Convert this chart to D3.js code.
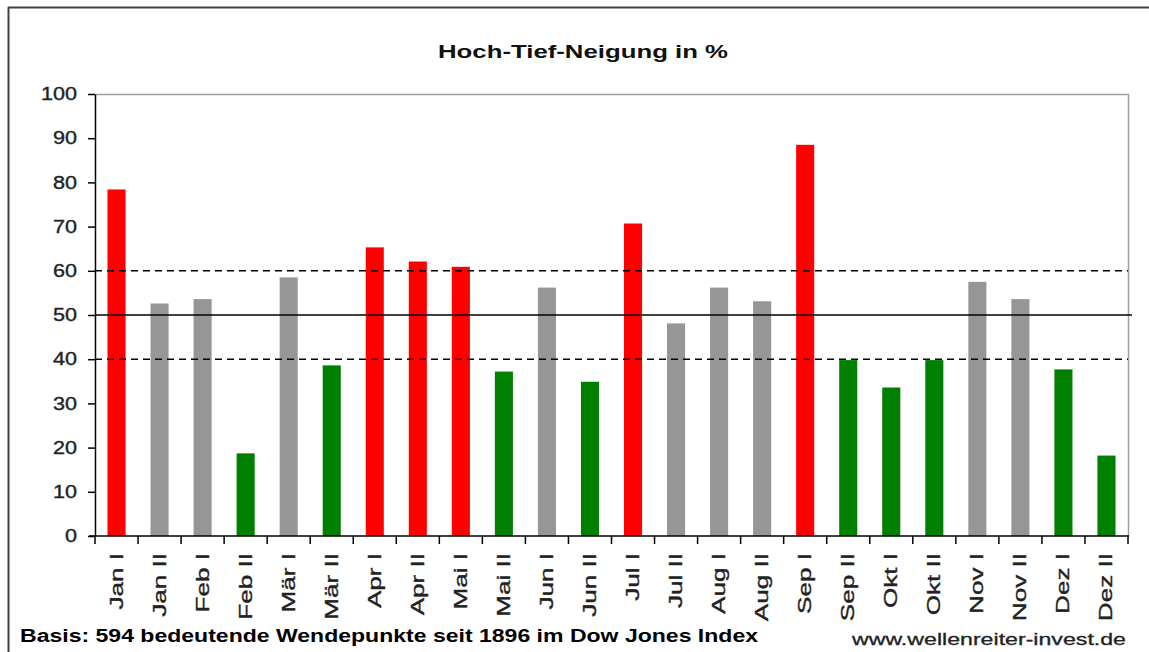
<!DOCTYPE html>
<html>
<head>
<meta charset="utf-8">
<script src="https://cdn.jsdelivr.net/npm/d3@7"></script>
<style>
  html, body { margin: 0; padding: 0; background: #fff; }
  svg { display: block; font-family: "Liberation Sans", Arial, sans-serif; }
</style>
</head>
<body>
<svg id="chart" width="1149" height="652"></svg>
<script>
const categories = ["Jan I","Jan II","Feb I","Feb II","Mär I","Mär II","Apr I","Apr II","Mai I","Mai II","Jun I","Jun II","Jul I","Jul II","Aug I","Aug II","Sep I","Sep II","Okt I","Okt II","Nov I","Nov II","Dez I","Dez II"];
const values = [78.4,52.6,53.6,18.7,58.5,38.6,65.3,62.1,60.9,37.2,56.2,34.9,70.7,48.1,56.2,53.1,88.5,39.8,33.6,39.8,57.5,53.6,37.7,18.2];
const yTicks = [0,10,20,30,40,50,60,70,80,90,100];
const dashedLevels = [40, 60];
const solidLevels = [50];
const title = "Hoch-Tief-Neigung in %";
const footLeft = "Basis: 594 bedeutende Wendepunkte seit 1896 im Dow Jones Index";
const footRight = "www.wellenreiter-invest.de";

const colorFor = v => v > 60 ? "#ff0000" : (v < 40 ? "#008000" : "#969696");

// stretch text horizontally (reference font is wide)
function stretch(sel, factor) {
  sel.each(function() {
    const len = this.getComputedTextLength();
    d3.select(this).attr("textLength", len * factor).attr("lengthAdjust", "spacingAndGlyphs");
  });
}
function fitTo(sel, width) {
  sel.attr("textLength", width).attr("lengthAdjust", "spacingAndGlyphs");
}

const svg = d3.select("#chart");
const m = {left: 95, right: 1128, top: 94, bottom: 536};

// outer frame
svg.append("line").attr("x1", 8).attr("x2", 1149).attr("y1", 7.5).attr("y2", 7.5)
  .attr("stroke", "#404040").attr("stroke-width", 2);
svg.append("line").attr("x1", 8.5).attr("x2", 8.5).attr("y1", 7).attr("y2", 652)
  .attr("stroke", "#404040").attr("stroke-width", 2);

const x = d3.scaleBand().domain(categories).range([m.left, m.right]).paddingInner(0.58).paddingOuter(0.29);
const y = d3.scaleLinear().domain([0, 100]).range([m.bottom, m.top]);

// plot area border (top and right)
svg.append("path")
  .attr("d", `M${m.left},${y(100)+0.5}H${m.right+0.5}V${m.bottom}`)
  .attr("fill", "none").attr("stroke", "#a0a0a0").attr("stroke-width", 1.5);

// bars
svg.append("g").selectAll("rect").data(values).join("rect")
  .attr("x", (d, i) => x(categories[i]))
  .attr("width", x.bandwidth())
  .attr("y", d => y(d))
  .attr("height", d => y(0) - y(d))
  .attr("fill", d => colorFor(d));

// reference lines
svg.append("g").selectAll("line").data(dashedLevels).join("line")
  .attr("x1", m.left).attr("x2", m.right)
  .attr("y1", d => y(d)).attr("y2", d => y(d))
  .attr("stroke", "#000").attr("stroke-width", 1.5).attr("stroke-dasharray", "7,5");
svg.append("g").selectAll("line").data(solidLevels).join("line")
  .attr("x1", m.left).attr("x2", m.right + 4)
  .attr("y1", d => y(d)).attr("y2", d => y(d))
  .attr("stroke", "#000").attr("stroke-width", 1.5);

// y axis
const yAxis = svg.append("g").attr("transform", `translate(${m.left},0)`)
  .call(d3.axisLeft(y).tickValues(yTicks).tickSize(7).tickPadding(11).tickSizeOuter(0));
yAxis.select(".domain").attr("stroke", "#000").attr("stroke-width", 1.5);
yAxis.selectAll(".tick line").attr("stroke", "#000").attr("stroke-width", 1.5);
const yLabels = yAxis.selectAll("text").attr("font-size", 18).attr("fill", "#222")
  .attr("stroke", "#222").attr("stroke-width", 0.35)
  .attr("font-family", "'Liberation Sans', Arial, sans-serif");
stretch(yLabels, 1.2);

// x axis: ticks between categories
const boundaries = d3.range(categories.length + 1).map(i => m.left + i * (m.right - m.left) / categories.length);
const xg = svg.append("g");
xg.append("line").attr("x1", m.left - 6).attr("x2", m.right + 1).attr("y1", m.bottom).attr("y2", m.bottom)
  .attr("stroke", "#000").attr("stroke-width", 1.5);
xg.selectAll("line.t").data(boundaries).join("line").attr("class", "t")
  .attr("x1", d => d).attr("x2", d => d).attr("y1", m.bottom).attr("y2", m.bottom + 8)
  .attr("stroke", "#000").attr("stroke-width", 1.5);
const xLabels = xg.selectAll("text").data(categories).join("text")
  .attr("transform", d => `translate(${x(d) + x.bandwidth()/2 + 6},${m.bottom + 17}) rotate(-90)`)
  .attr("text-anchor", "end")
  .attr("font-size", 18)
  .attr("fill", "#222")
  .attr("stroke", "#222").attr("stroke-width", 0.35)
  .text(d => d);
stretch(xLabels, 1.45);

// title
const t = svg.append("text").attr("x", 583).attr("y", 58).attr("text-anchor", "middle")
  .attr("font-size", 19).attr("font-weight", "bold").attr("fill", "#111").text(title);
fitTo(t, 290);

// footers
const fl = svg.append("text").attr("x", 20).attr("y", 642).attr("font-size", 18).attr("font-weight", "bold")
  .attr("fill", "#000").text(footLeft);
fitTo(fl, 738);
const fr = svg.append("text").attr("x", 1126).attr("y", 645).attr("text-anchor", "end").attr("font-size", 17)
  .attr("fill", "#222").attr("stroke", "#222").attr("stroke-width", 0.3).text(footRight);
fitTo(fr, 274);
</script>
</body>
</html>
